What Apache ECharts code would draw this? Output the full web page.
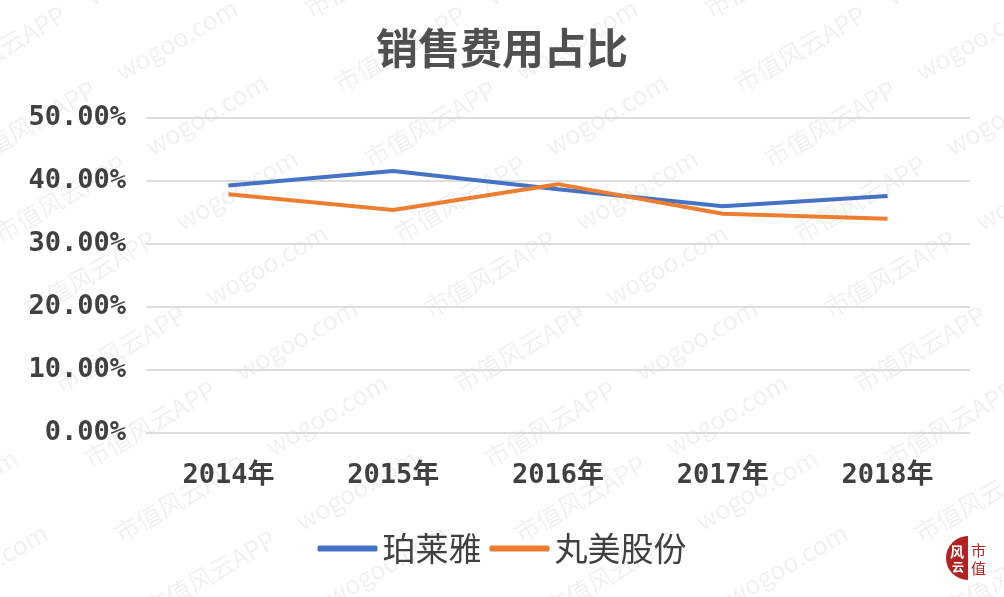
<!DOCTYPE html>
<html>
<head>
<meta charset="utf-8">
<script src="https://cdn.jsdelivr.net/npm/echarts@6/dist/echarts.min.js"></script>
<style>html,body{margin:0;padding:0;background:#fff;}#c{width:1004px;height:597px;}</style>
</head>
<body>
<div id="c"></div>
<script>
const categories = ['2014年', '2015年', '2016年', '2017年', '2018年'];
const proya = [39.3, 41.6, 38.7, 36.0, 37.6];
const marubi = [37.9, 35.4, 39.5, 34.8, 34.0];
const seriesNames = ['珀莱雅', '丸美股份'];

const numFont = '"DejaVu Sans Mono", "Noto Sans CJK SC", monospace';
const cjkFont = '"Noto Sans CJK SC", sans-serif';

const chart = echarts.init(document.getElementById('c'));

// faint watermark pattern
const wm = [];
for (let r = -5; r < 12; r++) {
  for (let k = -2; k < 5; k++) {
    wm.push({
      type: 'text',
      x: k * 400 + r * 30 - 100,
      y: r * 75,
      rotation: Math.PI / 6,
      silent: true,
      z: -10,
      style: { text: '市值风云APP     wogoo.com', fill: 'rgba(150,150,150,0.13)', font: '25px ' + cjkFont }
    });
  }
}

chart.setOption({
  backgroundColor: '#ffffff',
  title: {
    text: '销售费用占比',
    left: 'center',
    top: 22,
    textStyle: { fontFamily: cjkFont, fontSize: 42, fontWeight: 'bold', color: '#505050' }
  },
  legend: {
    bottom: 27,
    left: 'center',
    itemWidth: 60,
    itemHeight: 6,
    itemGap: 8,
    icon: 'roundRect',
    textStyle: { fontFamily: cjkFont, fontSize: 33, color: '#404040' },
    data: seriesNames
  },
  grid: { left: 146, right: 34, top: 118, bottom: 164, containLabel: false },
  xAxis: {
    type: 'category',
    data: categories,
    boundaryGap: true,
    axisLine: { show: false },
    axisTick: { show: false },
    axisLabel: { margin: 29, fontFamily: numFont, fontWeight: 'bold', fontSize: 27, color: '#404040' }
  },
  yAxis: {
    type: 'value',
    min: 0,
    max: 50,
    interval: 10,
    axisLine: { show: false },
    axisTick: { show: false },
    splitLine: { lineStyle: { color: '#dcdcdc', width: 2 } },
    axisLabel: {
      margin: 20,
      fontFamily: numFont, fontWeight: 'bold', fontSize: 27, color: '#404040',
      formatter: v => v.toFixed(2) + '%'
    }
  },
  series: [
    { name: seriesNames[0], type: 'line', data: proya, symbol: 'none', lineStyle: { color: '#4472C4', width: 4 }, itemStyle: { color: '#4472C4' } },
    { name: seriesNames[1], type: 'line', data: marubi, symbol: 'none', lineStyle: { color: '#ED7D31', width: 4 }, itemStyle: { color: '#ED7D31' } }
  ],
  graphic: wm.concat([
    { type: 'circle', shape: { cx: 968, cy: 558, r: 22 }, style: { fill: '#b22222' }, z: 10 },
    { type: 'rect', shape: { x: 968, y: 534, width: 26, height: 48 }, style: { fill: '#ffffff' }, z: 11 },
    { type: 'text', x: 950, y: 545, style: { text: '风', fill: '#fff', font: 'bold 14px ' + cjkFont }, z: 12 },
    { type: 'text', x: 952, y: 561, style: { text: '云', fill: '#fff', font: 'bold 12px ' + cjkFont }, z: 12 },
    { type: 'text', x: 971, y: 543, style: { text: '市', fill: '#b22222', font: '15px ' + cjkFont }, z: 12 },
    { type: 'text', x: 971, y: 561, style: { text: '值', fill: '#b22222', font: '15px ' + cjkFont }, z: 12 }
  ])
});
</script>
</body>
</html>
